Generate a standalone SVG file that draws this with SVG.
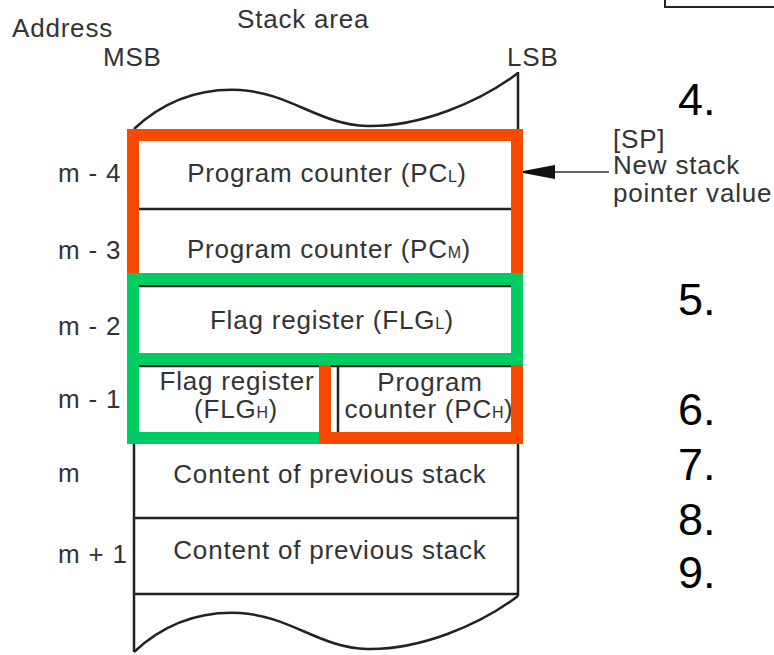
<svg xmlns="http://www.w3.org/2000/svg" width="774" height="655" viewBox="0 0 774 655">
<style>
.t{font-family:"Liberation Sans",Arial,Helvetica,sans-serif;font-size:26px;letter-spacing:0.8px;fill:#333}
.c{text-anchor:middle}
.s{font-size:16px;letter-spacing:0.4px}
.n{font-family:"Liberation Sans",Arial,Helvetica,sans-serif;font-size:45px;fill:#000}
.ln{stroke:#222;stroke-width:2.5;fill:none}
.hl{fill:none;stroke-width:12;stroke-linejoin:miter;stroke-linecap:butt}
</style>
<defs>
<marker id="ah" viewBox="0 0 32 14" refX="32" refY="7" markerWidth="32" markerHeight="14" markerUnits="userSpaceOnUse" orient="auto">
<path d="M0,0 L32,6 L32,8 L0,14 Z" fill="#111"/>
</marker>
</defs>
<rect width="774" height="655" fill="#fff"/>
<rect x="665" y="-10" width="120" height="17" fill="none" stroke="#222" stroke-width="2"/>

<g id="labels">
<text class="t" x="12" y="37">Address</text>
<text class="t" x="237" y="28">Stack area</text>
<text class="t" x="103" y="66">MSB</text>
<text class="t" x="507" y="66">LSB</text>
<text class="t" x="58" y="182">m - 4</text>
<text class="t" x="58" y="259">m - 3</text>
<text class="t" x="58" y="335">m - 2</text>
<text class="t" x="58" y="408">m - 1</text>
<text class="t" x="58" y="482">m</text>
<text class="t" x="58" y="563">m + 1</text>
</g>

<g id="stack-outline">
<path class="ln" d="M134,129 V652"/>
<path class="ln" d="M518,72 V596"/>
<path class="ln" d="M134,129 C165,100 200,88 240,90 C290,93 320,125 367,126 C420,127 480,102 518,73"/>
<path class="ln" d="M134,652 C165,623 200,611 240,613 C290,616 320,648 367,649 C420,650 480,625 518,596"/>
</g>

<g id="cell-pcl">
<text class="t c" x="327" y="182">Program counter (PC<tspan class="s">L</tspan>)</text>
<path class="ln" d="M134,209 H518"/>
</g>
<g id="cell-pcm">
<text class="t c" x="329" y="258">Program counter (PC<tspan class="s">M</tspan>)</text>
<path class="ln" d="M134,286 H518"/>
</g>
<g id="cell-flgl">
<text class="t c" x="332" y="329">Flag register (FLG<tspan class="s">L</tspan>)</text>
<path class="ln" d="M134,366 H518"/>
</g>
<g id="cell-flgh">
<text class="t c" x="237" y="390">Flag register</text>
<text class="t c" x="236" y="418">(FLG<tspan class="s">H</tspan>)</text>
</g>
<g id="cell-pch">
<path class="ln" d="M338,366 V438"/>
<text class="t c" x="430" y="391">Program</text>
<text class="t c" x="429" y="418">counter (PC<tspan class="s">H</tspan>)</text>
<path class="ln" d="M134,438 H518"/>
</g>
<g id="cell-m">
<text class="t c" x="330" y="483">Content of previous stack</text>
<path class="ln" d="M134,518 H518"/>
</g>
<g id="cell-m1">
<text class="t c" x="330" y="559">Content of previous stack</text>
<path class="ln" d="M134,594 H518"/>
</g>

<g id="highlight-pc">
<path class="hl" stroke="#F94A00" d="M133,279 V135 H517 V438 H325 V359"/>
</g>
<g id="highlight-flg">
<path class="hl" stroke="#00CC66" d="M319,438 H133 V279 H517 V359 H133"/>
</g>

<g id="connectors">
<path d="M609,172 H523" stroke="#333" stroke-width="1.5" fill="none" marker-end="url(#ah)"/>
</g>

<g id="sp-label">
<text class="t" x="613" y="148">[SP]</text>
<text class="t" x="613" y="174">New stack</text>
<text class="t" x="613" y="202">pointer value</text>
</g>

<g id="steps">
<text class="n" x="678" y="115">4.</text>
<text class="n" x="678" y="315">5.</text>
<text class="n" x="678" y="425">6.</text>
<text class="n" x="678" y="480">7.</text>
<text class="n" x="678" y="535">8.</text>
<text class="n" x="678" y="588">9.</text>
</g>
</svg>
